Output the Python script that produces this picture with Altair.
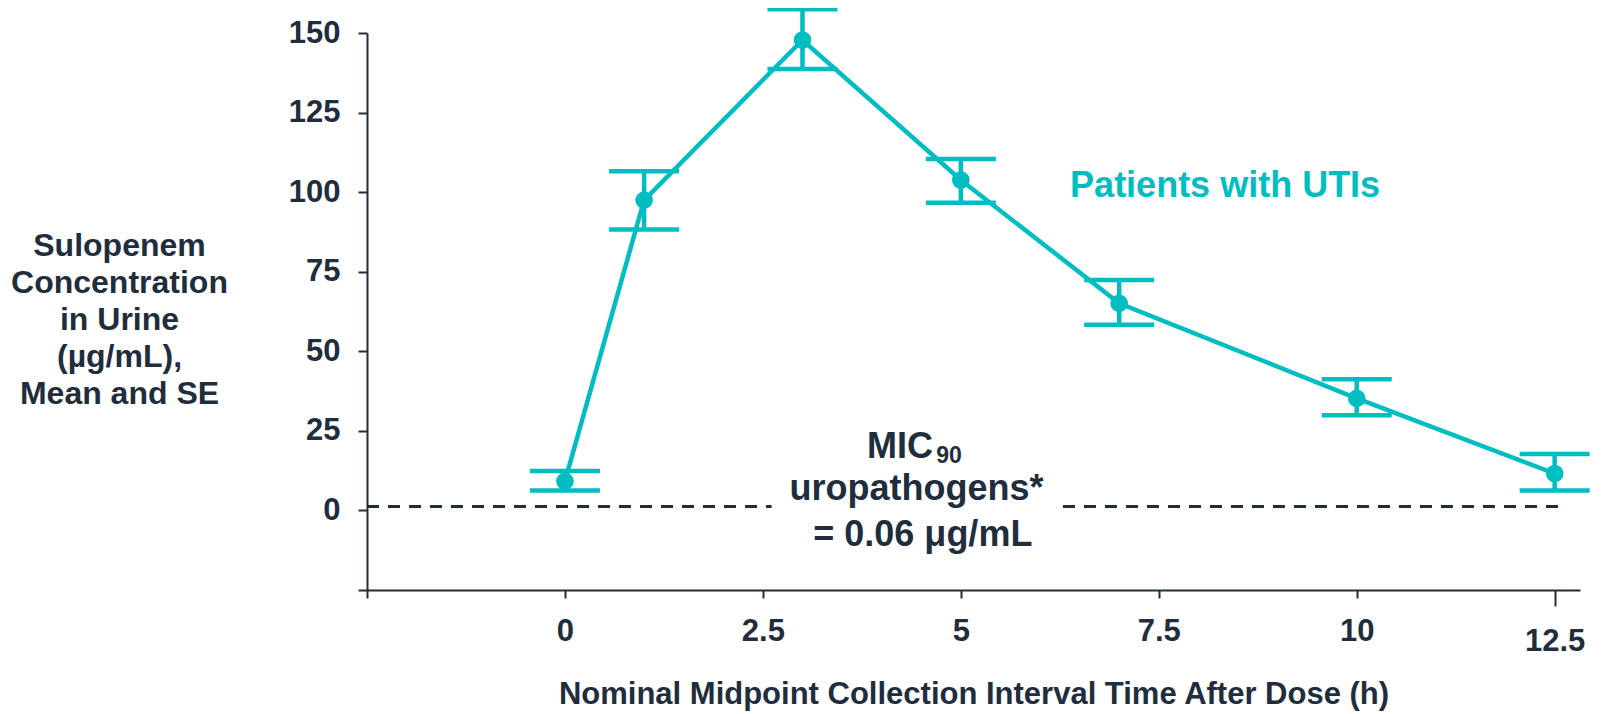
import altair as alt
import pandas as pd

# ---- data ----
times = [0, 1, 3, 5, 7, 10, 12.5]
mean_conc = [9.2, 97.5, 147.8, 103.8, 65.1, 35.2, 11.6]
se_low = [6.3, 88.3, 138.7, 96.7, 58.3, 29.9, 6.3]
se_high = [12.4, 106.6, 157.5, 110.4, 72.4, 41.2, 17.7]

x_ticks = [-2.5, 0, 2.5, 5, 7.5, 10, 12.5]
y_ticks = [-25, 0, 25, 50, 75, 100, 125, 150]

mic_y = 1.2
mic_seg_start = [-2.5, 6.29]
mic_seg_end = [2.61, 12.65]

TEAL = "#00BDC2"
DARK = "#1F2D3D"
FONT = "Liberation Sans"

X_DOMAIN = [-2.5, 12.82]
Y_DOMAIN = [-25, 150]

df = pd.DataFrame({"t": times, "mean": mean_conc, "lo": se_low, "hi": se_high})
seg = pd.DataFrame({"x": mic_seg_start, "x2": mic_seg_end, "y": [mic_y] * len(mic_seg_start)})

xs = alt.Scale(domain=X_DOMAIN, nice=False, zero=False)
ys = alt.Scale(domain=Y_DOMAIN, nice=False, zero=False)

x_axis = alt.Axis(
    values=x_ticks,
    labelExpr="datum.value < 0 ? '' : format(datum.value, '~g')",
    grid=False, tickWidth=2, tickColor=DARK,
    tickSize={"condition": {"test": "datum.value == 12.5", "value": 16}, "value": 8},
    domainColor=DARK, domainWidth=2,
    labelFont=FONT, labelFontSize=31, labelFontWeight="bold", labelColor=DARK,
    labelPadding={"condition": {"test": "datum.value == 12.5", "value": 20}, "value": 18},
    labelFlush=False, labelOverlap=False,
    title="Nominal Midpoint Collection Interval Time After Dose (h)",
    titleFont=FONT, titleFontSize=31, titleFontWeight="bold", titleColor=DARK,
    titleBaseline="alphabetic", titleY=113,
)
y_axis = alt.Axis(
    values=y_ticks,
    labelExpr="datum.value < 0 ? '' : datum.label",
    grid=False, tickSize=9, tickWidth=2, tickColor=DARK,
    domainColor=DARK, domainWidth=2,
    labelFont=FONT, labelFontSize=31, labelFontWeight="bold", labelColor=DARK,
    labelPadding=18, labelFlush=False, labelOverlap=False,
    title=["Sulopenem", "Concentration", "in Urine", "(µg/mL),", "Mean and SE"],
    titleFont=FONT, titleFontSize=32, titleFontWeight="bold", titleColor=DARK,
    titleAngle=0, titleAlign="center", titleBaseline="middle",
    titleX=-248, titleY=212, titleLineHeight=37,
)


def X(field):
    return alt.X(field, scale=xs, axis=x_axis)


def Y(field):
    return alt.Y(field, scale=ys, axis=y_axis)


base = alt.Chart(df)

line = base.mark_line(color=TEAL, strokeWidth=4.5).encode(x=X("t:Q"), y=Y("mean:Q"))
stems = base.mark_rule(color=TEAL, strokeWidth=4.5).encode(x=X("t:Q"), y=Y("lo:Q"), y2="hi:Q")
cap_lo = base.mark_tick(color=TEAL, orient="horizontal", size=70, thickness=4.5, opacity=1).encode(
    x=X("t:Q"), y=Y("lo:Q"))
cap_hi = base.mark_tick(color=TEAL, orient="horizontal", size=70, thickness=4.5, opacity=1).encode(
    x=X("t:Q"), y=Y("hi:Q"))
points = base.mark_circle(color=TEAL, size=310, opacity=1).encode(x=X("t:Q"), y=Y("mean:Q"))
mic = alt.Chart(seg).mark_rule(color=DARK, strokeWidth=3, strokeDash=[12, 9]).encode(
    x=X("x:Q"), x2="x2:Q", y=Y("y:Q"))


def label(text, x, y, size, align, color=DARK):
    d = pd.DataFrame({"x": [x], "y": [y], "text": [text]})
    return alt.Chart(d).mark_text(
        font=FONT, fontSize=size, fontWeight="bold", color=color,
        align=align, baseline="alphabetic",
    ).encode(x=X("x:Q"), y=Y("y:Q"), text="text:N")


texts = [
    label("Patients with UTIs", 6.38, 98.6, 36, "left", TEAL),
    label("MIC", 4.648, 16.4, 36, "right"),
    label("90", 4.69, 14.8, 23, "left"),
    label("uropathogens*", 4.44, 3.3, 36, "center"),
    label("= 0.06 μg/mL", 4.52, -11.1, 36, "center"),
]

chart = alt.layer(mic, line, stems, cap_lo, cap_hi, points, *texts).properties(
    width=1213, height=557,
    background="white",
    autosize=alt.AutoSizeParams(type="none"),
    padding={"left": 359, "top": 25, "right": 16, "bottom": 124},
).configure_view(stroke=None)

chart.save("out.html", embed_options={"renderer": "svg", "actions": False})
